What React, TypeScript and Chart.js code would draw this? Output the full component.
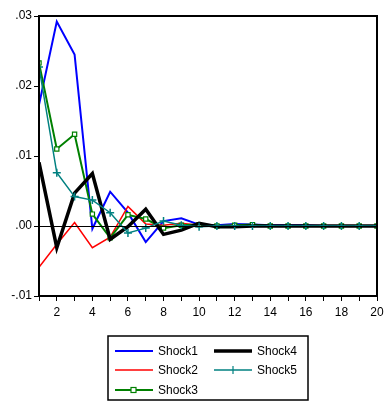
import React, { useEffect, useRef } from "react";
import { Chart, registerables } from "chart.js";

Chart.register(...registerables);

const periods = [1, 2, 3, 4, 5, 6, 7, 8, 9, 10, 11, 12, 13, 14, 15, 16, 17, 18, 19, 20];
const shock1 = [0.0173, 0.0292, 0.0245, -0.0004, 0.0049, 0.0019, -0.0023, 0.0007, 0.0011, 0.0002, 0.0001, 0.0003, 0.0002, 0.0001, 0.0001, 0.0001, 0.0, 0.0, 0.0, 0.0];
const shock2 = [-0.0059, -0.0026, 0.0005, -0.0031, -0.0016, 0.0028, 0.0003, 0.0001, 0.0004, 0.0001, 0.0, 0.0001, 0.0, 0.0, 0.0, 0.0, 0.0, 0.0, 0.0, 0.0];
const shock3 = [0.0233, 0.011, 0.0131, 0.0017, -0.0017, 0.0016, 0.001, -0.0003, 0.0001, 0.0002, 0.0, 0.0001, 0.0002, 0.0, 0.0, 0.0, 0.0, 0.0, 0.0, 0.0];
const shock4 = [0.0091, -0.0031, 0.0047, 0.0075, -0.0019, -0.0001, 0.0024, -0.0012, -0.0006, 0.0004, -0.0001, -0.0001, 0.0, 0.0, 0.0, 0.0, 0.0, 0.0, 0.0, 0.0];
const shock5 = [0.0227, 0.0076, 0.0042, 0.0037, 0.0019, -0.001, -0.0003, 0.0007, 0.0001, -0.0001, 0.0, 0.0, 0.0, 0.0, 0.0, 0.0, 0.0, 0.0, 0.0, 0.0];
const yTickLabels: Record<string, string> = { "0.03": ".03", "0.02": ".02", "0.01": ".01", "0": ".00", "-0.01": "-.01" };
const seriesNames = ["Shock1", "Shock2", "Shock3", "Shock4", "Shock5"];

const FONT = "'Liberation Sans', Arial, sans-serif";

export default function App() {
  const ref = useRef<HTMLCanvasElement | null>(null);
  useEffect(() => {
    const canvas = ref.current!;
    const toPts = (arr: number[]) => arr.map((v, i) => ({ x: periods[i], y: v }));

    const framePlugin = {
      id: "frame",
      afterDatasetsDraw(chart: any) {
        const { ctx, chartArea } = chart;
        const { left, right, top, bottom } = chartArea;
        const y0 = chart.scales.y.getPixelForValue(0);
        ctx.save();
        ctx.strokeStyle = "#000";
        ctx.lineWidth = 1;
        ctx.beginPath();
        ctx.moveTo(left, Math.round(y0) + 0.5);
        ctx.lineTo(right, Math.round(y0) + 0.5);
        ctx.stroke();
        ctx.lineWidth = 2;
        ctx.strokeRect(left, top, right - left, bottom - top);
        ctx.restore();
      },
      afterDraw(chart: any) {
        const ctx = chart.ctx;
        ctx.save();
        const bx = 108, by = 336, bw = 200, bh = 64;
        ctx.strokeStyle = "#000";
        ctx.lineWidth = 1.5;
        ctx.strokeRect(bx, by, bw, bh);
        const ds = chart.data.datasets;
        const pos = [
          [115, 351],
          [115, 370],
          [115, 390],
          [214, 351],
          [214, 370],
        ];
        ctx.font = "12px " + FONT;
        ctx.textBaseline = "middle";
        ds.forEach((d: any, i: number) => {
          const [x, y] = pos[i];
          ctx.strokeStyle = d.borderColor;
          ctx.lineWidth = d.borderWidth;
          ctx.beginPath();
          ctx.moveTo(x, y);
          ctx.lineTo(x + 38, y);
          ctx.stroke();
          if (d.pointStyle === "rect") {
            ctx.fillStyle = "#fff";
            ctx.lineWidth = 1.2;
            ctx.fillRect(x + 16, y - 2.5, 5, 5);
            ctx.strokeRect(x + 16, y - 2.5, 5, 5);
          } else if (d.pointStyle === "cross") {
            ctx.lineWidth = 1.2;
            ctx.beginPath();
            ctx.moveTo(x + 19, y - 4);
            ctx.lineTo(x + 19, y + 4);
            ctx.stroke();
          }
          ctx.fillStyle = "#000";
          ctx.fillText(d.label, x + 43, y + 1);
        });
        ctx.restore();
      },
    };

    const chart = new Chart(canvas, {
      type: "line",
      data: {
        datasets: [
          { label: seriesNames[0], data: toPts(shock1), borderColor: "#0000ff", borderWidth: 2, pointRadius: 0, order: 5 },
          { label: seriesNames[1], data: toPts(shock2), borderColor: "#ff0000", borderWidth: 1.5, pointRadius: 0, order: 4 },
          {
            label: seriesNames[2], data: toPts(shock3), borderColor: "#008000", borderWidth: 2,
            pointStyle: "rect", pointRadius: 3, pointBorderWidth: 1.2, pointBackgroundColor: "#ffffff", pointBorderColor: "#008000", order: 3,
          },
          { label: seriesNames[3], data: toPts(shock4), borderColor: "#000000", borderWidth: 3.5, pointRadius: 0, order: 2 },
          {
            label: seriesNames[4], data: toPts(shock5), borderColor: "#008080", borderWidth: 1.5,
            pointStyle: "cross", pointRadius: 4, pointBorderWidth: 1.5, pointBorderColor: "#008080", order: 1,
          },
        ],
      },
      options: {
        animation: false,
        responsive: false,
        maintainAspectRatio: false,
        layout: { padding: { top: 16, right: 8, left: 0, bottom: 0 } },
        plugins: { legend: { display: false }, tooltip: { enabled: false } },
        elements: { line: { tension: 0 } },
        scales: {
          x: {
            type: "linear",
            min: 1,
            max: 20,
            afterFit: (s: any) => { s.height = 105; s.paddingLeft = 0; s.paddingRight = 0; },
            ticks: {
              stepSize: 1,
              autoSkip: false,
              maxRotation: 0,
              color: "#000",
              padding: 4,
              font: { family: FONT, size: 12 },
              callback: (v: any) => (Number(v) % 2 === 0 ? String(v) : ""),
            },
            grid: { drawOnChartArea: false, drawTicks: true, tickLength: 5, color: "#000", lineWidth: 1 },
            border: { display: true, color: "#000", width: 2 },
          },
          y: {
            min: -0.01,
            max: 0.03,
            afterFit: (s: any) => { s.width = 39; s.paddingTop = 0; s.paddingBottom = 0; },
            ticks: {
              stepSize: 0.01,
              color: "#000",
              padding: 2,
              font: { family: FONT, size: 12 },
              callback: (v: any) => {
                const k = String(Math.round(Number(v) * 100) / 100);
                return yTickLabels[k] ?? "";
              },
            },
            grid: { drawOnChartArea: false, drawTicks: true, tickLength: 5, color: "#000", lineWidth: 1 },
            border: { display: true, color: "#000", width: 2 },
          },
        },
      },
      plugins: [framePlugin],
    } as any);
    return () => chart.destroy();
  }, []);
  return (
    <div style={{ position: "absolute", left: 0, top: 0, width: 385, height: 401, background: "#fff" }}>
      <canvas ref={ref} width={385} height={401} style={{ width: 385, height: 401, display: "block" }} />
    </div>
  );
}
